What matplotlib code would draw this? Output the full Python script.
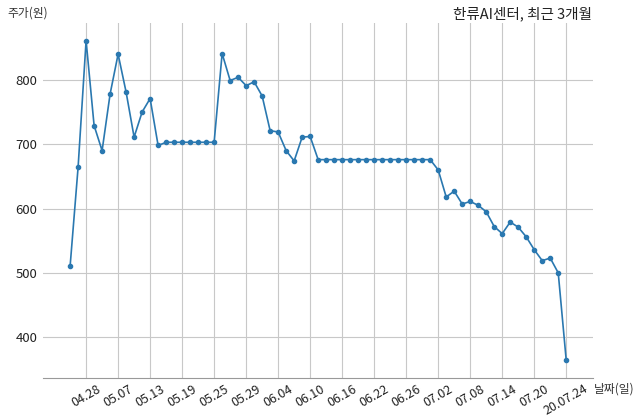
import matplotlib
matplotlib.use("Agg")
import matplotlib.pyplot as plt
import numpy as np

plt.rcParams['font.family'] = ['Noto Sans CJK KR', 'DejaVu Sans']

# closing prices (won), one per trading day
prices = [510, 664, 861, 729, 690, 778, 840, 781, 711, 750, 771, 698,
          703, 703, 703, 703, 703, 703, 703,
          841, 799, 804, 791, 797, 775, 721, 719, 690, 674, 711, 712,
          676, 676, 676, 676, 676, 676, 676, 676, 676, 676, 676, 676, 676, 676, 676,
          660, 618, 627, 607, 611, 605, 595, 572, 561, 579, 571, 556, 536,
          519, 523, 500, 364]
tick_pos = [2, 6, 10, 14, 18, 22, 26, 30, 34, 38, 42, 46, 50, 54, 58, 62]
tick_labels = ["04.28", "05.07", "05.13", "05.19", "05.25", "05.29", "06.04",
               "06.10", "06.16", "06.22", "06.26", "07.02", "07.08", "07.14",
               "07.20", "20.07.24"]
y_ticks = [400, 500, 600, 700, 800]

x = np.arange(len(prices))

fig = plt.figure(figsize=(6.4, 4.19), dpi=100)
ax = fig.add_axes([0.067, 0.097, 0.859, 0.849])

ax.plot(x, prices, color='#2a78b0', linewidth=1.2, marker='o', markersize=3.0, zorder=3)

ax.set_xlim(-3.4, 65.3)
ax.set_ylim(336, 889)
ax.set_xticks(tick_pos)
ax.set_xticklabels(tick_labels, rotation=30, fontsize=9, color='#222222')
ax.set_yticks(y_ticks)
ax.tick_params(axis='y', labelsize=9.5, length=0, pad=4, labelcolor='#222222')
ax.tick_params(axis='x', length=0, pad=3)

ax.grid(True, color='#c8c8c8', linewidth=0.8)
ax.set_axisbelow(True)
for side in ['left', 'top', 'right']:
    ax.spines[side].set_visible(False)
ax.spines['bottom'].set_color('#999999')
ax.spines['bottom'].set_linewidth(0.8)

fig.text(0.011, 0.968, "주가(원)", fontsize=8.5, color='#333333', va='center', ha='left')
fig.text(0.928, 0.072, "날짜(일)", fontsize=8.5, color='#333333', va='center', ha='left')
fig.text(0.925, 0.966, "한류AI센터, 최근 3개월", fontsize=10.5, color='#222222', va='center', ha='right')

fig.savefig("out.png", dpi=100)
